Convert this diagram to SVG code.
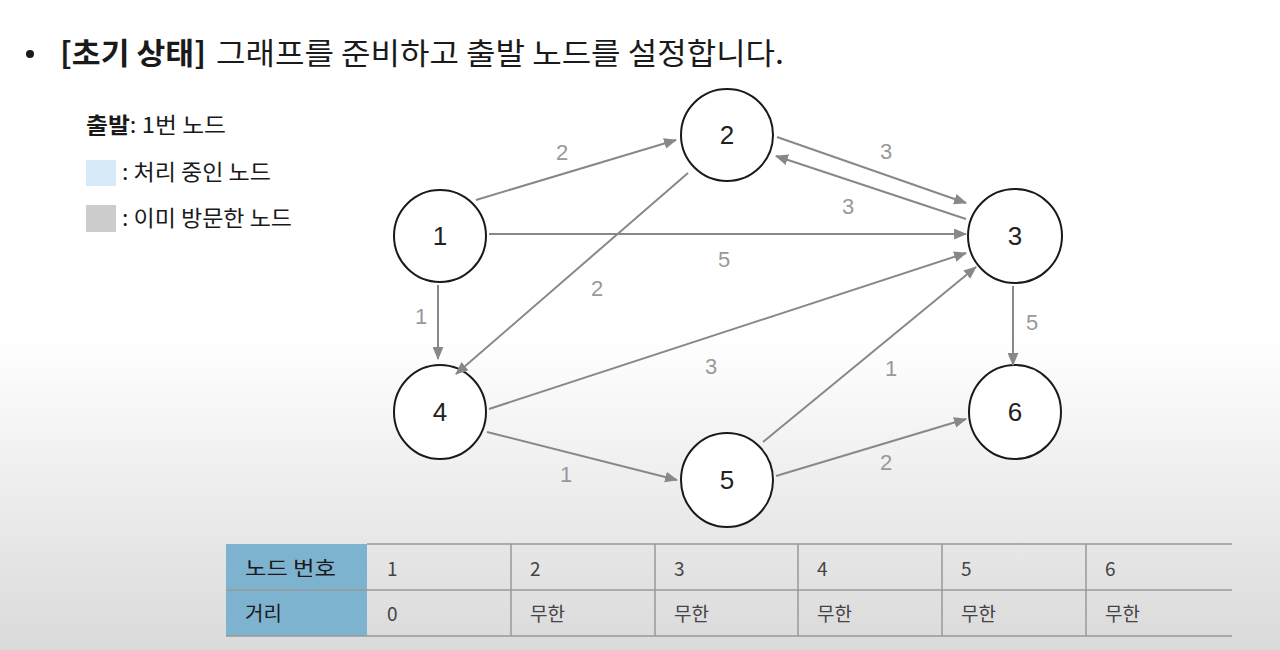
<svg xmlns="http://www.w3.org/2000/svg" width="1280" height="650" viewBox="0 0 1280 650">
<defs>
<linearGradient id="bg" x1="0" y1="0" x2="0" y2="1">
<stop offset="0" stop-color="#ffffff"/>
<stop offset="0.52" stop-color="#ffffff"/>
<stop offset="1" stop-color="#dadada"/>
</linearGradient>
<marker id="ah" viewBox="0 0 12 10" refX="11" refY="5" markerWidth="13" markerHeight="11" orient="auto" markerUnits="userSpaceOnUse">
<path d="M0,0 L12,5 L0,10 z" fill="#888"/>
</marker>
</defs>
<style>
.t{font-family:"Noto Sans CJK KR","Noto Sans",sans-serif;fill:#1a1a1a}
.node circle,.node ellipse{fill:#fff;stroke:#1a1a1a;stroke-width:2}
.node text{font-family:"Liberation Sans","Noto Sans",sans-serif;font-size:26px;fill:#222;text-anchor:middle}
.e line{stroke:#888;stroke-width:2;marker-end:url(#ah)}
.w{font-family:"Liberation Sans","Noto Sans",sans-serif;font-size:22px;fill:#999;text-anchor:middle}
.cell{font-family:"Noto Sans CJK KR","Liberation Sans",sans-serif;font-size:19px;fill:#444}
.hd{font-family:"Noto Sans CJK KR","Liberation Sans",sans-serif;font-size:20px;fill:#1a1a1a}
.grid{stroke:#999;stroke-width:1.5}
</style>
<rect width="1280" height="650" fill="url(#bg)"/>
<g id="title">
<circle cx="30" cy="54" r="4" fill="#1a1a1a"/>
<text class="t" x="60" y="64" font-size="30" font-weight="bold" textLength="146" lengthAdjust="spacingAndGlyphs">[초기 상태]</text>
<text class="t" x="216" y="64" font-size="30" textLength="568" lengthAdjust="spacingAndGlyphs">그래프를 준비하고 출발 노드를 설정합니다.</text>
</g>
<g id="legend">
<text class="t" x="86" y="133" font-size="22" textLength="140" lengthAdjust="spacingAndGlyphs"><tspan font-weight="bold">출발</tspan>: 1번 노드</text>
<rect x="86" y="160" width="30" height="26" fill="#d6eaf8"/>
<text class="t" x="122" y="180" font-size="22" textLength="149" lengthAdjust="spacingAndGlyphs">: 처리 중인 노드</text>
<rect x="86" y="205" width="30" height="27" fill="#cccccc"/>
<text class="t" x="122" y="226" font-size="22" textLength="170" lengthAdjust="spacingAndGlyphs">: 이미 방문한 노드</text>
</g>
<g id="node1" class="node"><circle cx="440" cy="236" r="46"/><text x="440" y="245">1</text></g>
<g id="node2" class="node"><circle cx="727" cy="135" r="46"/><text x="727" y="144">2</text></g>
<g id="node3" class="node"><circle cx="1015" cy="236" r="47"/><text x="1015" y="245">3</text></g>
<g id="node4" class="node"><ellipse cx="440" cy="412" rx="46" ry="47"/><text x="440" y="421">4</text></g>
<g id="node5" class="node"><ellipse cx="727" cy="480" rx="46" ry="47"/><text x="727" y="489">5</text></g>
<g id="node6" class="node"><ellipse cx="1015" cy="412" rx="46" ry="47"/><text x="1015" y="421">6</text></g>
<g id="edges" class="e">
<line x1="476" y1="200" x2="676" y2="140"/>
<line x1="777" y1="137" x2="966" y2="203"/>
<line x1="966" y1="219" x2="776" y2="156"/>
<line x1="489" y1="234" x2="966" y2="234"/>
<line x1="688" y1="173" x2="456" y2="374"/>
<line x1="438" y1="285" x2="438" y2="359"/>
<line x1="489" y1="409" x2="966" y2="253"/>
<line x1="763" y1="442" x2="976" y2="267"/>
<line x1="1013" y1="286" x2="1013" y2="365"/>
<line x1="487" y1="432" x2="677" y2="480"/>
<line x1="776" y1="476" x2="966" y2="419"/>
</g>
<g id="weights">
<text class="w" x="562" y="160">2</text>
<text class="w" x="886" y="159">3</text>
<text class="w" x="848" y="214">3</text>
<text class="w" x="724" y="267">5</text>
<text class="w" x="597" y="296">2</text>
<text class="w" x="421" y="324">1</text>
<text class="w" x="711" y="374">3</text>
<text class="w" x="891" y="376">1</text>
<text class="w" x="1032" y="330">5</text>
<text class="w" x="566" y="482">1</text>
<text class="w" x="886" y="470">2</text>
</g>
<g id="table">
<rect x="226" y="544" width="141" height="92" fill="#7eb3cf"/>
<line class="grid" x1="226" y1="590" x2="367" y2="590" stroke="#b8d4e3"/>
<line class="grid" x1="367" y1="544" x2="1232" y2="544"/>
<line class="grid" x1="367" y1="590" x2="1232" y2="590"/>
<line class="grid" x1="226" y1="636" x2="1232" y2="636"/>
<line class="grid" x1="511" y1="544" x2="511" y2="636"/>
<line class="grid" x1="655" y1="544" x2="655" y2="636"/>
<line class="grid" x1="798" y1="544" x2="798" y2="636"/>
<line class="grid" x1="942" y1="544" x2="942" y2="636"/>
<line class="grid" x1="1086" y1="544" x2="1086" y2="636"/>
<text class="hd" x="245" y="576" textLength="91" lengthAdjust="spacingAndGlyphs">노드 번호</text>
<text class="hd" x="245" y="621">거리</text>
<text class="cell" x="387" y="576">1</text>
<text class="cell" x="530" y="576">2</text>
<text class="cell" x="674" y="576">3</text>
<text class="cell" x="817" y="576">4</text>
<text class="cell" x="961" y="576">5</text>
<text class="cell" x="1105" y="576">6</text>
<text class="cell" x="387" y="621">0</text>
<text class="cell" x="530" y="621">무한</text>
<text class="cell" x="674" y="621">무한</text>
<text class="cell" x="817" y="621">무한</text>
<text class="cell" x="961" y="621">무한</text>
<text class="cell" x="1105" y="621">무한</text>
</g>
</svg>
